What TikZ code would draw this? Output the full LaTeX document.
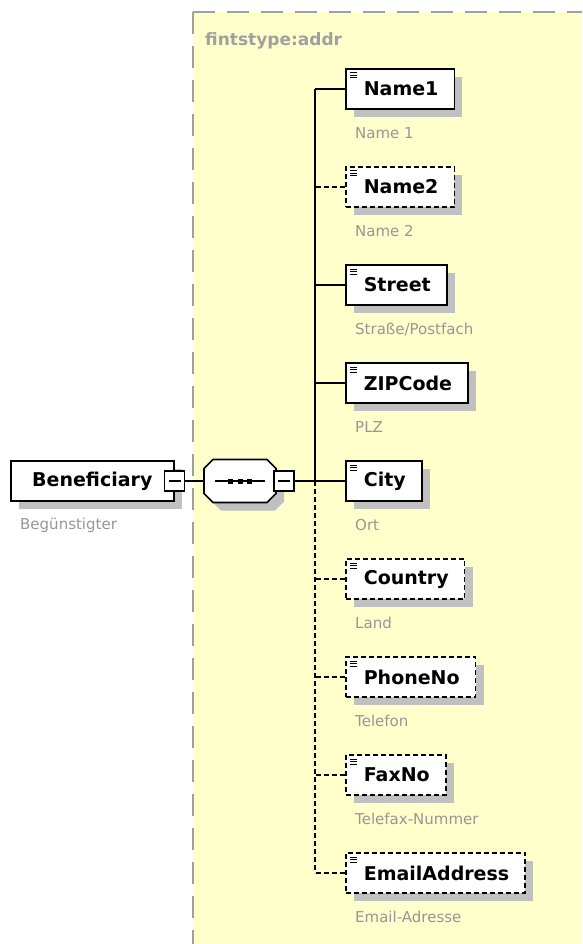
\documentclass[tikz,border=0pt]{standalone}
\usepackage{fontspec}
\setmainfont{DejaVu Sans}
\usepackage{xcolor}
\usepackage{tikz}
\usetikzlibrary{shadows,positioning,calc}

\definecolor{typeyellow}{RGB}{255,255,204}
\definecolor{typeborder}{RGB}{160,160,160}
\definecolor{descgray}{RGB}{150,150,150}
\definecolor{shadowgray}{RGB}{192,192,192}

\begin{document}
\begin{tikzpicture}[x=1pt, y=-1pt,
    box/.style={draw, line width=1.6pt, fill=white, minimum height=40pt,
        inner xsep=16pt, inner ysep=0pt, font=\bfseries\fontsize{19}{22}\selectfont,
        drop shadow={shadow xshift=8pt, shadow yshift=-8pt, fill=shadowgray, opacity=1}},
    elem/.style={box, anchor=west,
        path picture={
            \foreach \k in {4,6.5,9}
                \draw[solid, line width=1pt] ([xshift=4pt, yshift=-\k pt]path picture bounding box.north west) -- ++(7pt,0);
        }},
    optional/.style={dash pattern=on 5pt off 3pt},
    desc/.style={anchor=west, inner sep=0pt, text=descgray, font=\fontsize{15}{18}\selectfont},
    minus/.style={draw, line width=1.3pt, fill=white, minimum size=20pt, inner sep=0pt,
        path picture={
            \draw[line width=1.3pt] ([xshift=4pt]path picture bounding box.west) -- ([xshift=-4pt]path picture bounding box.east);
        }},
    link/.style={line width=1.4pt}]
    \useasboundingbox (0,0) rectangle (582,944);

    % complex type area
    \fill[typeyellow] (193,12) rectangle (582,944);
    \draw[typeborder, line width=2pt, dash pattern=on 22pt off 12pt] (193,12) -- (582,12);
    \draw[typeborder, line width=2pt, dash pattern=on 22pt off 12pt] (193,12) -- (193,944);
    \node[anchor=west, inner sep=0pt, text=typeborder, font=\bfseries\fontsize{17}{20}\selectfont] (typename) at (205,41) {fintstype:addr};

    % root element and sequence
    \node[box, anchor=west, minimum width=163pt] (ben) at (10,481) {Beneficiary};
    \node[desc] (bendesc) at (20,525) {Begünstigter};
    \node[minus] (benminus) at (ben.east) {};

    \node[minimum width=72pt, minimum height=43pt, inner sep=0pt, outer sep=0pt] (seq) at (240,481) {};
    \draw[line width=1.6pt, fill=white,
        drop shadow={shadow xshift=8pt, shadow yshift=-8pt, fill=shadowgray, opacity=1}]
        ([xshift=9pt]seq.north west) -- ([xshift=-9pt]seq.north east)
        -- ([yshift=-9pt]seq.north east) -- ([yshift=9pt]seq.south east)
        -- ([xshift=-9pt]seq.south east) -- ([xshift=9pt]seq.south west)
        -- ([yshift=9pt]seq.south west) -- ([yshift=-9pt]seq.north west) -- cycle;
    \draw[line width=1.3pt] ([xshift=11pt]seq.west) -- ([xshift=-11pt]seq.east);
    \foreach \dx in {-9.5,0,9.5}
        \fill ([xshift=\dx pt]seq.center) +(-2.5pt,-2.5pt) rectangle +(2.5pt,2.5pt);
    \node[minus] (seqminus) at ([xshift=8pt]seq.east) {};

    \coordinate (spine) at (315,481);
    \draw[link] (benminus.east) -- (seq.west);
    \draw[link] (seqminus.east) -- (spine);

    % child elements
    \node[elem] (name1) at (345,89) {\hspace*{2pt}Name1};
    \node[desc] (name1desc) at (355,133) {Name 1};
    \node[elem, optional] (name2) at (345,187) {\hspace*{2pt}Name2};
    \node[desc] (name2desc) at (355,231) {Name 2};
    \node[elem] (street) at (345,285) {\hspace*{2pt}Street};
    \node[desc] (streetdesc) at (355,329) {Straße/Postfach};
    \node[elem] (zip) at (345,383) {\hspace*{2pt}ZIPCode};
    \node[desc] (zipdesc) at (355,427) {PLZ};
    \node[elem] (city) at (345,481) {\hspace*{2pt}City};
    \node[desc] (citydesc) at (355,525) {Ort};
    \node[elem, optional] (country) at (345,579) {\hspace*{2pt}Country};
    \node[desc] (countrydesc) at (355,623) {Land};
    \node[elem, optional] (phone) at (345,677) {\hspace*{2pt}PhoneNo};
    \node[desc] (phonedesc) at (355,721) {Telefon};
    \node[elem, optional] (fax) at (345,775) {\hspace*{2pt}FaxNo};
    \node[desc] (faxdesc) at (355,819) {Telefax-Nummer};
    \node[elem, optional] (email) at (345,873) {\hspace*{2pt}EmailAddress};
    \node[desc] (emaildesc) at (355,917) {Email-Adresse};

    % sequence spine: required part solid, optional part dashed
    \draw[link] (name1.west -| spine) -- (spine);
    \draw[link, optional] (spine) -- (email.west -| spine);
    \draw[link] (name1.west) -- (name1.west -| spine);
    \draw[link, optional] (name2.west) -- (name2.west -| spine);
    \draw[link] (street.west) -- (street.west -| spine);
    \draw[link] (zip.west) -- (zip.west -| spine);
    \draw[link] (city.west) -- (spine);
    \draw[link, optional] (country.west) -- (country.west -| spine);
    \draw[link, optional] (phone.west) -- (phone.west -| spine);
    \draw[link, optional] (fax.west) -- (fax.west -| spine);
    \draw[link, optional] (email.west) -- (email.west -| spine);
\end{tikzpicture}
\end{document}
